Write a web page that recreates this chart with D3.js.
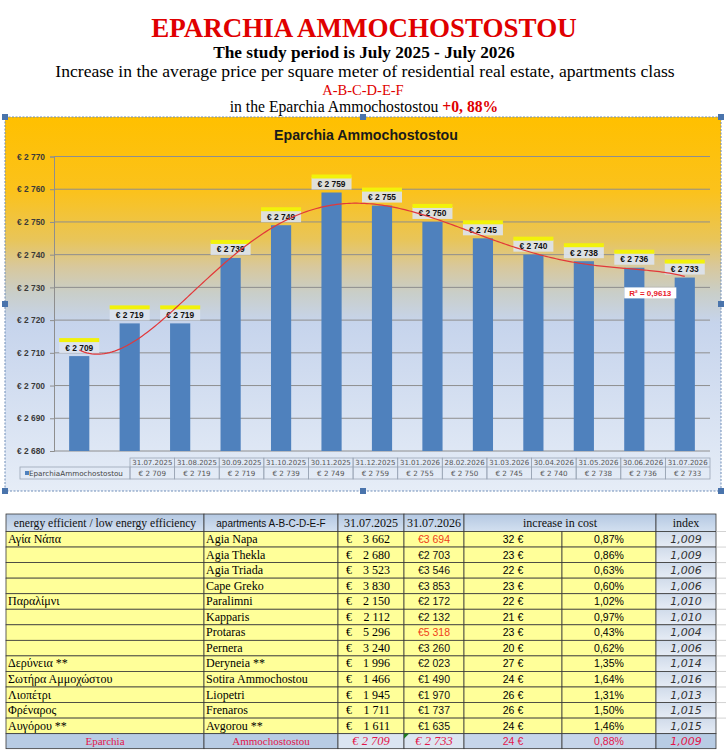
<!DOCTYPE html>
<html>
<head>
<meta charset="utf-8">
<script src="https://d3js.org/d3.v7.min.js"></script>
<title>Eparchia Ammochostostou</title>
<style>
  body { margin: 0; background: #fff; }
  svg { display: block; }
  .serif { font-family: "Times New Roman", "Liberation Serif", serif; }
  .sans { font-family: Arial, "Liberation Sans", sans-serif; }
</style>
</head>
<body>
<svg id="viz" width="726" height="754"></svg>
<script>
// chart data
const months = ["31.07.2025", "31.08.2025", "30.09.2025", "31.10.2025", "30.11.2025", "31.12.2025",
  "31.01.2026", "28.02.2026", "31.03.2026", "30.04.2026", "31.05.2026", "30.06.2026", "31.07.2026"];
const prices = [2709, 2719, 2719, 2739, 2749, 2759, 2755, 2750, 2745, 2740, 2738, 2736, 2733];
const yTicks = [2680, 2690, 2700, 2710, 2720, 2730, 2740, 2750, 2760, 2770];
const seriesName = "EparchiaAmmochostostou";
const r2Label = "R² = 0,9613";
const trendOrder = 5;

// table data
const greekNames = ["Αγία Νάπα", "", "", "", "Παραλίμνι", "", "", "", "Δερύνεια **",
  "Σωτήρα Αμμοχώστου", "Λιοπέτρι", "Φρέναρος", "Αυγόρου **"];
const areas = ["Agia Napa", "Agia Thekla", "Agia Triada", "Cape Greko", "Paralimni", "Kapparis",
  "Protaras", "Pernera", "Deryneia **", "Sotira Ammochostou", "Liopetri", "Frenaros", "Avgorou **"];
const price2025 = [3662, 2680, 3523, 3830, 2150, 2112, 5296, 3240, 1996, 1466, 1945, 1711, 1611];
const price2026 = [3694, 2703, 3546, 3853, 2172, 2132, 5318, 3260, 2023, 1490, 1970, 1737, 1635];
const increase = [32, 23, 22, 23, 22, 21, 23, 20, 27, 24, 26, 26, 24];
const pctIncrease = ["0,87%", "0,86%", "0,63%", "0,60%", "1,02%", "0,97%", "0,43%", "0,62%",
  "1,35%", "1,64%", "1,31%", "1,50%", "1,46%"];
const indexes = ["1,009", "1,009", "1,006", "1,006", "1,010", "1,010", "1,004", "1,006",
  "1,014", "1,016", "1,013", "1,015", "1,015"];
const redRows = ["Agia Napa", "Protaras"];
const headers = ["energy efficient / low energy efficiency", "apartments A-B-C-D-E-F",
  "31.07.2025", "31.07.2026", "increase in cost", "index"];
const totalRow = ["Eparchia", "Ammochostostou", 2709, 2733, 24, "0,88%", "1,009"];

var locale = d3.formatLocale({ decimal: ",", thousands: " ", grouping: [3], currency: ["€ ", ""] });
var num = locale.format(",");
var euro = function (v) { return "€ " + num(v); };

// least squares polynomial (what the spreadsheet trendline does)
function polyFit(xs, ys, deg) {
  var n = deg + 1, A = [], b = [];
  for (var i = 0; i < n; i++) { A.push(new Array(n).fill(0)); b.push(0); }
  xs.forEach(function (x, k) {
    for (var i = 0; i < n; i++) {
      b[i] += ys[k] * Math.pow(x, i);
      for (var j = 0; j < n; j++) A[i][j] += Math.pow(x, i + j);
    }
  });
  for (var c = 0; c < n; c++) {
    var p = c;
    for (var r = c + 1; r < n; r++) if (Math.abs(A[r][c]) > Math.abs(A[p][c])) p = r;
    var t = A[c]; A[c] = A[p]; A[p] = t; t = b[c]; b[c] = b[p]; b[p] = t;
    for (var r = c + 1; r < n; r++) {
      var f = A[r][c] / A[c][c];
      for (var j = c; j < n; j++) A[r][j] -= f * A[c][j];
      b[r] -= f * b[c];
    }
  }
  var coef = new Array(n).fill(0);
  for (var i = n - 1; i >= 0; i--) {
    var s = b[i];
    for (var j = i + 1; j < n; j++) s -= A[i][j] * coef[j];
    coef[i] = s / A[i][i];
  }
  return function (x) { return coef.reduce(function (acc, c, i) { return acc + c * Math.pow(x, i); }, 0); };
}

var svg = d3.select("#viz");
var defs = svg.append("defs");

// ---------- page heading ----------
svg.append("text").attr("class", "serif").attr("x", 364).attr("y", 37)
  .attr("text-anchor", "middle").style("font-size", "27px").style("font-weight", "bold")
  .style("fill", "#E00000").text("EPARCHIA AMMOCHOSTOSTOU");
svg.append("text").attr("class", "serif").attr("x", 364).attr("y", 58)
  .attr("text-anchor", "middle").style("font-size", "17.3px").style("font-weight", "bold")
  .text("The study period is July 2025 - July 2026");
svg.append("text").attr("class", "serif").attr("x", 365).attr("y", 77)
  .attr("text-anchor", "middle").style("font-size", "17.6px")
  .text("Increase in the average price per square meter of residential real estate, apartments class");
svg.append("text").attr("class", "serif").attr("x", 363).attr("y", 95)
  .attr("text-anchor", "middle").style("font-size", "14.5px").style("fill", "#E00000")
  .text("A-B-C-D-E-F");
var l5 = svg.append("text").attr("class", "serif").attr("x", 364).attr("y", 112)
  .attr("text-anchor", "middle").style("font-size", "15.7px");
l5.append("tspan").text("in the Eparchia Ammochostostou ");
l5.append("tspan").style("fill", "#E00000").style("font-weight", "bold").text("+0, 88%");

// ---------- chart ----------
var chartX0 = 5, chartX1 = 721, chartY0 = 117, chartY1 = 491;
var bg = defs.append("linearGradient").attr("id", "chartBg")
  .attr("x1", 0).attr("y1", 0).attr("x2", 0).attr("y2", 1);
[[0, "#FFC000"], [0.2, "#FBC21C"], [0.33, "#E8C55A"], [0.4, "#D8C89C"], [0.47, "#C9CEC8"],
 [0.55, "#C6D4EC"], [1, "#E6EDF7"]].forEach(function (s) {
  bg.append("stop").attr("offset", s[0]).attr("stop-color", s[1]);
});
svg.append("rect").attr("x", chartX0).attr("y", chartY0)
  .attr("width", chartX1 - chartX0).attr("height", chartY1 - chartY0)
  .style("fill", "url(#chartBg)");

svg.append("text").attr("class", "sans").attr("x", 366).attr("y", 139.5)
  .attr("text-anchor", "middle").style("font-size", "14.2px").style("font-weight", "bold")
  .style("fill", "#1a1a1a").text("Eparchia Ammochostostou");

var plotL = 54, plotR = 710, plotT = 156.5, plotB = 451;
var x = d3.scaleBand().domain(months).range([plotL, plotR]).paddingInner(0.6).paddingOuter(0.3);
var y = d3.scaleLinear().domain([2680, 2770]).range([plotB, plotT]);

// gridlines
svg.append("g").selectAll("line").data(yTicks).enter().append("line")
  .attr("x1", plotL).attr("x2", plotR)
  .attr("y1", function (d) { return y(d); }).attr("y2", function (d) { return y(d); })
  .style("stroke", "#8E8E8E").style("stroke-width", 1);

var yAxis = d3.axisLeft(y).tickValues(yTicks).tickSize(4).tickPadding(5).tickFormat(euro);
var gy = svg.append("g").attr("transform", "translate(" + plotL + ",0)").call(yAxis);
gy.select(".domain").style("stroke", "#8E8E8E");
gy.selectAll(".tick line").style("stroke", "#8E8E8E");
gy.selectAll(".tick text").attr("class", "sans").style("font-size", "8.4px")
  .style("font-weight", "bold").style("fill", "#3a3a3a");

// bars
svg.append("g").selectAll("rect").data(prices).enter().append("rect")
  .attr("x", function (d, i) { return x(months[i]); })
  .attr("y", function (d) { return y(d); })
  .attr("width", x.bandwidth())
  .attr("height", function (d) { return plotB - y(d); })
  .style("fill", "#4F81BD");

// data labels
var lab = svg.append("g").selectAll("g").data(prices).enter().append("g")
  .attr("transform", function (d, i) {
    return "translate(" + (x(months[i]) + x.bandwidth() / 2) + "," + (y(d) - 18) + ")";
  });
lab.append("rect").attr("x", -20).attr("y", 3).attr("width", 40).attr("height", 12)
  .style("fill", "#DDE3EE").style("opacity", 0.9);
lab.append("rect").attr("x", -20).attr("y", 0).attr("width", 40).attr("height", 4)
  .style("fill", "#F2F20A");
lab.append("text").attr("class", "sans").attr("y", 12.5).attr("text-anchor", "middle")
  .style("font-size", "8.4px").style("font-weight", "bold").style("fill", "#111")
  .text(euro);

// polynomial trendline over category positions 1..13
var idx = prices.map(function (d, i) { return i + 1; });
var trend = polyFit(idx.map(function (v) { return (v - 7) / 6; }), prices, trendOrder);
var step = x.step();
var x1 = x(months[0]) + x.bandwidth() / 2;
var pts = d3.range(1, 13.001, 0.05).map(function (v) {
  return [x1 + (v - 1) * step, y(trend((v - 7) / 6))];
});
svg.append("path").attr("d", d3.line()(pts))
  .style("fill", "none").style("stroke", "#E2383A").style("stroke-width", 1.2);

// R² label
var r2x = x(months[11]) + x.bandwidth() / 2 + 16, r2y = y(2730);
svg.append("rect").attr("x", r2x - 26).attr("y", r2y).attr("width", 52).attr("height", 11)
  .style("fill", "#fff");
svg.append("text").attr("class", "sans").attr("x", r2x).attr("y", r2y + 8.5)
  .attr("text-anchor", "middle").style("font-size", "8px").style("font-weight", "bold")
  .style("fill", "#E8202A").text(r2Label);

// data table under the chart
var tx = d3.scaleBand().domain(months).range([130, 710]);
var dt = svg.append("g");
var rowA = 458, rowB = 467, rowC = 479;
dt.selectAll("rect.d").data(months).enter().append("rect")
  .attr("x", function (d) { return tx(d); }).attr("y", rowA)
  .attr("width", tx.bandwidth()).attr("height", rowC - rowA)
  .style("fill", "none").style("stroke", "#9BA6B6").style("stroke-width", 0.8);
dt.append("line").attr("x1", 130).attr("x2", 710).attr("y1", rowB).attr("y2", rowB)
  .style("stroke", "#9BA6B6").style("stroke-width", 0.8);
dt.append("rect").attr("x", 20).attr("y", rowB).attr("width", 110).attr("height", rowC - rowB)
  .style("fill", "none").style("stroke", "#9BA6B6").style("stroke-width", 0.8);
dt.append("rect").attr("x", 25).attr("y", rowB + 4).attr("width", 4).attr("height", 4)
  .style("fill", "#4F81BD");
dt.append("text").attr("x", 29).attr("y", rowB + 8.5)
  .style("font-family", "'DejaVu Sans', sans-serif").style("font-size", "7.2px")
  .style("fill", "#444").text(seriesName);
dt.selectAll("text.m").data(months).enter().append("text")
  .attr("x", function (d) { return tx(d) + tx.bandwidth() / 2; }).attr("y", rowB - 1.8)
  .attr("text-anchor", "middle")
  .style("font-family", "'DejaVu Sans', sans-serif").style("font-size", "7px")
  .style("fill", "#555").text(function (d) { return d; });
dt.selectAll("text.v").data(prices).enter().append("text")
  .attr("x", function (d, i) { return tx(months[i]) + tx.bandwidth() / 2; }).attr("y", rowC - 3)
  .attr("text-anchor", "middle")
  .style("font-family", "'DejaVu Sans', sans-serif").style("font-size", "7.2px")
  .style("fill", "#555").text(function (d) { return "€ " + num(d); });

// selection frame round the chart object
svg.append("rect").attr("x", chartX0).attr("y", chartY0)
  .attr("width", chartX1 - chartX0).attr("height", chartY1 - chartY0)
  .style("fill", "none").style("stroke", "#6E8DB8").style("stroke-width", 1)
  .style("stroke-dasharray", "2,1.5");
var hx = [chartX0, (chartX0 + chartX1) / 2, chartX1], hy = [chartY0, (chartY0 + chartY1) / 2, chartY1];
hx.forEach(function (a, i) {
  hy.forEach(function (b, j) {
    if (i === 1 && j === 1) return;
    svg.append("rect").attr("x", a - 3).attr("y", b - 3).attr("width", 6).attr("height", 6)
      .style("fill", "#4A74AC");
  });
});

// ---------- lower table ----------
var cols = [6, 204, 338, 404, 464, 562, 656, 716];
var headTop = 514, headH = 17.5, rowH = 15.55;
var bodyTop = headTop + headH;
var footTop = bodyTop + areas.length * rowH, footH = 15;
var tbl = svg.append("g");
var line = "#3a3a3a";

var hg = defs.append("linearGradient").attr("id", "headBg").attr("x1", 0).attr("y1", 0).attr("x2", 0).attr("y2", 1);
hg.append("stop").attr("offset", 0).attr("stop-color", "#B4C8E2");
hg.append("stop").attr("offset", 1).attr("stop-color", "#D3E0F0");
var ig = defs.append("linearGradient").attr("id", "idxBg").attr("x1", 0).attr("y1", 0).attr("x2", 0).attr("y2", 1);
ig.append("stop").attr("offset", 0).attr("stop-color", "#D0DBEA");
ig.append("stop").attr("offset", 1).attr("stop-color", "#E6ECF5");

// header
var headCells = [[0, 1], [1, 2], [2, 3], [3, 4], [4, 6], [6, 7]];
headCells.forEach(function (c, k) {
  tbl.append("rect").attr("x", cols[c[0]]).attr("y", headTop)
    .attr("width", cols[c[1]] - cols[c[0]]).attr("height", headH)
    .style("fill", "url(#headBg)").style("stroke", line).style("stroke-width", 0.8);
  tbl.append("text").attr("class", k === 1 ? "sans" : "serif")
    .attr("x", (cols[c[0]] + cols[c[1]]) / 2).attr("y", headTop + headH - 4.5)
    .attr("text-anchor", "middle").style("font-size", k === 1 ? "10px" : (k === 0 ? "11.6px" : "12px"))
    .style("fill", "#111").text(headers[k]);
});

// body rows
areas.forEach(function (a, i) {
  var top = bodyTop + i * rowH, base = top + rowH - 4;
  for (var c = 0; c < 7; c++) {
    tbl.append("rect").attr("x", cols[c]).attr("y", top)
      .attr("width", cols[c + 1] - cols[c]).attr("height", rowH)
      .style("fill", c === 6 ? "url(#idxBg)" : "#FFFF99")
      .style("stroke", line).style("stroke-width", 0.8);
  }
  tbl.append("text").attr("class", "serif").attr("x", cols[0] + 2).attr("y", base)
    .style("font-size", "12px").text(greekNames[i]);
  tbl.append("text").attr("class", "serif").attr("x", cols[1] + 2).attr("y", base)
    .style("font-size", "12px").text(a);
  tbl.append("text").attr("class", "serif").attr("x", cols[2] + 8).attr("y", base)
    .style("font-size", "12px").text("€");
  tbl.append("text").attr("class", "serif").attr("x", cols[3] - 14).attr("y", base)
    .attr("text-anchor", "end").style("font-size", "12px").text(num(price2025[i]));
  tbl.append("text").attr("class", "sans").attr("x", (cols[3] + cols[4]) / 2).attr("y", base)
    .attr("text-anchor", "middle").style("font-size", "10.5px")
    .style("fill", redRows.indexOf(a) >= 0 ? "#F0401A" : "#111").text("€" + num(price2026[i]));
  tbl.append("text").attr("class", "sans").attr("x", (cols[4] + cols[5]) / 2).attr("y", base)
    .attr("text-anchor", "middle").style("font-size", "10.5px").text(increase[i] + " €");
  tbl.append("text").attr("class", "sans").attr("x", (cols[5] + cols[6]) / 2).attr("y", base)
    .attr("text-anchor", "middle").style("font-size", "10.5px").text(pctIncrease[i]);
  tbl.append("text").attr("x", (cols[6] + cols[7]) / 2).attr("y", base)
    .attr("text-anchor", "middle").style("font-family", "'DejaVu Sans', sans-serif")
    .style("font-style", "italic").style("font-size", "11px").style("fill", "#333").text(indexes[i]);
  // faint word gridline past the table
  tbl.append("line").attr("x1", cols[7]).attr("x2", 726).attr("y1", top).attr("y2", top)
    .style("stroke", "#C8C8C8").style("stroke-width", 0.8);
});

// total row
var footFill = ["#B8CCE4", "#B8CCE4", "#DBE5F1", "#DBE5F1", "#C6D5EA", "#C6D5EA", "#B8CCE4"];
var footText = [totalRow[0], totalRow[1], euro(totalRow[2]), euro(totalRow[3]),
  totalRow[4] + " €", totalRow[5], totalRow[6]];
var crimson = "#E3174B";
for (var c = 0; c < 7; c++) {
  tbl.append("rect").attr("x", cols[c]).attr("y", footTop)
    .attr("width", cols[c + 1] - cols[c]).attr("height", footH)
    .style("fill", footFill[c]).style("stroke", line).style("stroke-width", 0.8);
  var t = tbl.append("text").attr("x", (cols[c] + cols[c + 1]) / 2).attr("y", footTop + footH - 3.8)
    .attr("text-anchor", "middle").style("fill", crimson).text(footText[c]);
  if (c < 2) t.attr("class", "serif").style("font-size", "11px");
  else if (c < 4) t.attr("class", "serif").style("font-size", "12.5px").style("font-style", "italic");
  else if (c < 6) t.attr("class", "sans").style("font-size", "10.5px");
  else t.style("font-family", "'DejaVu Sans', sans-serif").style("font-size", "11px").style("font-style", "italic");
}
tbl.append("path")
  .attr("d", "M" + cols[3] + "," + footTop + "h5l-5,5z")
  .style("fill", "#1E7B1E");
</script>
</body>
</html>
